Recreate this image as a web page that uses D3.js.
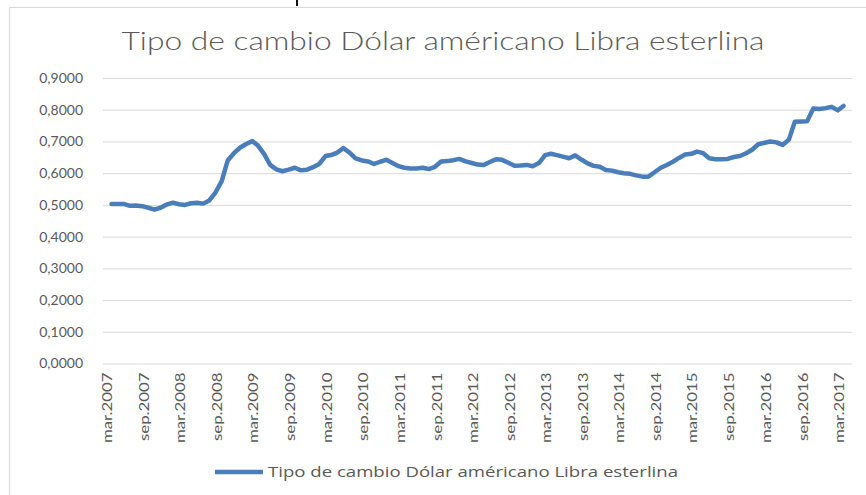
<!DOCTYPE html>
<html>
<head>
<meta charset="utf-8">
<title>Tipo de cambio</title>
<script src="https://cdn.jsdelivr.net/npm/d3@7/dist/d3.min.js"></script>
<style>
* {
    margin: 0;
    padding: 0;
}
body {
    background: #fff;
}
text {
    fill: #595959;
}
</style>
</head>
<body>
<svg width="866" height="495" id="grafico"></svg>
<script>
// datos mensuales, mar.2007 - mar.2017
var meses = d3.timeMonth.range(new Date(2007, 2, 1), new Date(2017, 3, 1));
var tipoCambio = [
    0.503, 0.503, 0.503, 0.497, 0.498, 0.496, 0.491, 0.485, 0.491, 0.501,
    0.507, 0.502, 0.500, 0.505, 0.507, 0.504, 0.514, 0.539, 0.575, 0.640,
    0.663, 0.680, 0.692, 0.701, 0.687, 0.660, 0.626, 0.612, 0.606, 0.611,
    0.617, 0.609, 0.611, 0.619, 0.629, 0.654, 0.657, 0.665, 0.679, 0.665,
    0.647, 0.640, 0.637, 0.629, 0.636, 0.642, 0.632, 0.622, 0.617, 0.615,
    0.615, 0.617, 0.613, 0.620, 0.637, 0.638, 0.641, 0.645, 0.637, 0.632,
    0.627, 0.626, 0.635, 0.644, 0.642, 0.633, 0.623, 0.624, 0.626, 0.622,
    0.632, 0.657, 0.661, 0.657, 0.652, 0.647, 0.656, 0.643, 0.631, 0.623,
    0.620, 0.610, 0.608, 0.603, 0.600, 0.598, 0.593, 0.589, 0.589, 0.603,
    0.617, 0.626, 0.636, 0.648, 0.659, 0.661, 0.668, 0.663, 0.647, 0.644,
    0.644, 0.645, 0.651, 0.654, 0.663, 0.674, 0.691, 0.696, 0.700, 0.697,
    0.689, 0.705, 0.762, 0.763, 0.764, 0.804, 0.802, 0.805, 0.809, 0.798,
    0.812
];
var etiquetasX = ["mar.2007", "sep.2007", "mar.2008", "sep.2008", "mar.2009",
    "sep.2009", "mar.2010", "sep.2010", "mar.2011", "sep.2011", "mar.2012",
    "sep.2012", "mar.2013", "sep.2013", "mar.2014", "sep.2014", "mar.2015",
    "sep.2015", "mar.2016", "sep.2016", "mar.2017"];
var ticksY = [0, 0.1, 0.2, 0.3, 0.4, 0.5, 0.6, 0.7, 0.8, 0.9];
var titulo = "Tipo de cambio Dólar américano Libra esterlina";

var svg = d3.select("#grafico");
var azul = "#4a7ebb", gris = "#d9d9d9";

var datos = meses.map(function(m, i) {
    return { mes: m, valor: tipoCambio[i] };
});

var x = d3.scaleTime()
    .domain(d3.extent(meses))
    .range([111.5, 843.5]);
var y = d3.scaleLinear().domain([0, 0.9]).range([363.5, 78]);

// marco del grafico
svg.append("rect").attr("x", 9.5).attr("y", 7.5)
    .attr("width", 900).attr("height", 600)
    .attr("fill", "none").attr("stroke", gris);
svg.append("rect").attr("x", 296).attr("y", 0)
    .attr("width", 2).attr("height", 6).attr("fill", "#111");

svg.append("text")
    .attr("x", 443).attr("y", 50)
    .attr("text-anchor", "middle")
    .attr("font-family", "Lato")
    .attr("font-weight", 300)
    .attr("font-size", 25)
    .attr("textLength", 643)
    .attr("lengthAdjust", "spacingAndGlyphs")
    .text(titulo);

// eje y con lineas de cuadricula
var fmt = function(d) { return d3.format(".4f")(d).replace(".", ","); };
var ejeY = svg.append("g")
    .attr("transform", "translate(103,0)")
    .call(d3.axisLeft(y).tickValues(ticksY).tickSize(-749).tickPadding(20).tickFormat(fmt));
ejeY.select(".domain").remove();
ejeY.selectAll("line").attr("stroke", gris);
ejeY.selectAll("text")
    .attr("fill", "#595959")
    .attr("font-family", "Lato")
    .attr("font-size", 14);

// etiquetas del eje x, una cada seis meses
var mesesEtiqueta = meses.filter(function(m) {
    return m.getMonth() === 2 || m.getMonth() === 8;
});
var ejeX = svg.append("g")
    .attr("transform", "translate(-5," + y(0) + ")")
    .call(d3.axisBottom(x).tickValues(mesesEtiqueta).tickSize(0)
        .tickFormat(function(d, i) { return etiquetasX[i]; }));
ejeX.select(".domain").remove();
ejeX.selectAll("text")
    .attr("fill", "#595959")
    .attr("font-family", "Lato")
    .attr("font-size", 14)
    .attr("text-anchor", "end")
    .attr("transform", "rotate(-90)")
    .attr("x", -9).attr("y", 0).attr("dy", "0.35em")
    .each(function() {
        // el original tiene las etiquetas algo estiradas
        var largo = this.getComputedTextLength();
        d3.select(this).attr("textLength", largo * 1.2)
            .attr("lengthAdjust", "spacingAndGlyphs");
    });

var linea = d3.line()
    .x(function(d) { return x(d.mes); })
    .y(function(d) { return y(d.valor); });

svg.append("path").datum(datos)
    .attr("fill", "none")
    .attr("stroke", azul)
    .attr("stroke-width", 4.5)
    .attr("stroke-linejoin", "round")
    .attr("stroke-linecap", "round")
    .attr("d", linea);

// leyenda
var leyenda = svg.append("g");
leyenda.append("line")
    .attr("x1", 215).attr("x2", 263).attr("y1", 472).attr("y2", 472)
    .attr("stroke", azul).attr("stroke-width", 4.5);
leyenda.append("text")
    .attr("x", 268).attr("y", 477)
    .attr("font-family", "Open Sans")
    .attr("font-size", 15)
    .attr("textLength", 410)
    .attr("lengthAdjust", "spacingAndGlyphs")
    .text(titulo);
</script>
</body>
</html>
